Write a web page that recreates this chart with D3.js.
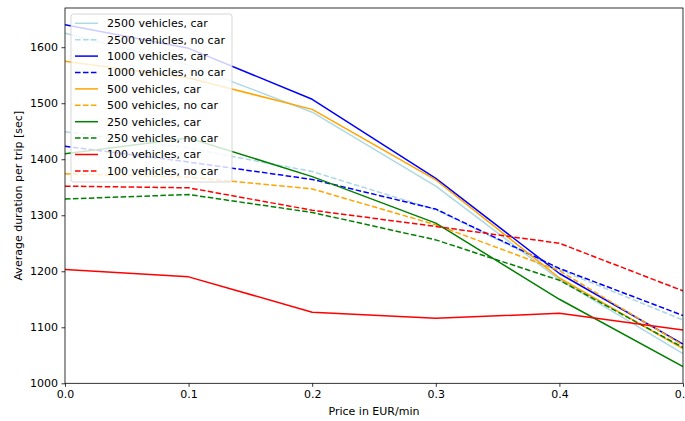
<!DOCTYPE html>
<html lang="en">
<head>
  <meta charset="UTF-8" />
  <title>Average duration per trip</title>
  <script src="https://d3js.org/d3.v7.min.js"></script>
  <style>
    body { margin: 0; background: #fff; }
    text { font-family: "DejaVu Sans", sans-serif; }
  </style>
</head>
<body>
  <svg id="chart" width="685" height="421"></svg>

  <script>
    // values
    const prices = [0.0, 0.1, 0.2, 0.3, 0.4, 0.5];

    const car2500   = [1625, 1568, 1484, 1352, 1185, 1053];
    const noCar2500 = [1449, 1420, 1378, 1310, 1203, 1113];
    const car1000   = [1640, 1598, 1507, 1366, 1196, 1070];
    const noCar1000 = [1423, 1395, 1364, 1311, 1205, 1121];
    const car500    = [1575, 1545, 1489, 1363, 1188, 1062];
    const noCar500  = [1374, 1368, 1347, 1283, 1201, 1068];
    const car250    = [1410, 1438, 1369, 1286, 1150, 1030];
    const noCar250  = [1329, 1337, 1305, 1256, 1184, 1064];
    const car100    = [1203, 1190, 1127, 1116, 1125, 1095];
    const noCar100  = [1352, 1349, 1309, 1280, 1250, 1165];

    const xTicks = [0.0, 0.1, 0.2, 0.3, 0.4, 0.5];
    const yTicks = [1000, 1100, 1200, 1300, 1400, 1500, 1600];

    const series = [
      { label: "2500 vehicles, car",    values: car2500,   color: "#add8e6", dashed: false },
      { label: "2500 vehicles, no car", values: noCar2500, color: "#add8e6", dashed: true },
      { label: "1000 vehicles, car",    values: car1000,   color: "blue",    dashed: false },
      { label: "1000 vehicles, no car", values: noCar1000, color: "blue",    dashed: true },
      { label: "500 vehicles, car",     values: car500,    color: "orange",  dashed: false },
      { label: "500 vehicles, no car",  values: noCar500,  color: "orange",  dashed: true },
      { label: "250 vehicles, car",     values: car250,    color: "green",   dashed: false },
      { label: "250 vehicles, no car",  values: noCar250,  color: "green",   dashed: true },
      { label: "100 vehicles, car",     values: car100,    color: "red",     dashed: false },
      { label: "100 vehicles, no car",  values: noCar100,  color: "red",     dashed: true }
    ];

    const plotLeft = 65, plotRight = 683, plotTop = 8, plotBottom = 383.3;
    const dash = "5.55,2.4";
    const fontSize = 11;

    const svg = d3.select("#chart");

    const x = d3.scaleLinear().domain([0, 0.5]).range([plotLeft, plotRight]);
    const y = d3.scaleLinear().domain([1000, 1670]).range([plotBottom, plotTop]);

    svg.append("defs").append("clipPath").attr("id", "plotClip")
      .append("rect")
        .attr("x", plotLeft).attr("y", plotTop)
        .attr("width", plotRight - plotLeft).attr("height", plotBottom - plotTop);

    const line = d3.line()
      .x((d, i) => x(prices[i]))
      .y(d => y(d));

    const plot = svg.append("g").attr("clip-path", "url(#plotClip)");

    series.forEach(s => {
      plot.append("path")
        .datum(s.values)
        .attr("d", line)
        .attr("fill", "none")
        .attr("stroke", s.color)
        .attr("stroke-width", 1.5)
        .attr("stroke-linejoin", "round")
        .attr("stroke-dasharray", s.dashed ? dash : null);
    });

    // axes
    const xAxis = svg.append("g")
      .attr("transform", `translate(0,${plotBottom})`)
      .call(d3.axisBottom(x).tickValues(xTicks).tickFormat(d3.format(".1f"))
        .tickSize(3.5).tickSizeOuter(0).tickPadding(3.5));

    const yAxis = svg.append("g")
      .attr("transform", `translate(${plotLeft},0)`)
      .call(d3.axisLeft(y).tickValues(yTicks).tickFormat(d3.format("d"))
        .tickSize(3.5).tickSizeOuter(0).tickPadding(3.5));

    [xAxis, yAxis].forEach(a => {
      a.select(".domain").remove();
      a.selectAll(".tick line").attr("stroke", "#000").attr("stroke-width", 0.8);
      a.selectAll(".tick text").attr("font-size", fontSize).attr("fill", "#000")
        .attr("font-family", "DejaVu Sans, sans-serif");
    });

    // spines
    svg.append("rect")
      .attr("x", plotLeft).attr("y", plotTop)
      .attr("width", plotRight - plotLeft).attr("height", plotBottom - plotTop)
      .attr("fill", "none")
      .attr("stroke", "#000")
      .attr("stroke-width", 0.8);

    // axis labels
    svg.append("text")
      .attr("x", (plotLeft + plotRight) / 2)
      .attr("y", 415)
      .attr("text-anchor", "middle")
      .attr("font-size", fontSize)
      .text("Price in EUR/min");

    svg.append("text")
      .attr("transform", `translate(22,${(plotTop + plotBottom) / 2}) rotate(-90)`)
      .attr("text-anchor", "middle")
      .attr("font-size", fontSize)
      .text("Average duration per trip [sec]");

    // legend
    const legend = svg.append("g");
    legend.append("rect")
      .attr("x", 71).attr("y", 14)
      .attr("width", 161).attr("height", 168)
      .attr("rx", 2.5)
      .attr("fill", "#fff").attr("fill-opacity", 0.8)
      .attr("stroke", "#ccc").attr("stroke-opacity", 0.8)
      .attr("stroke-width", 1);

    series.forEach((s, i) => {
      const cy = 23.3 + i * 16.4;
      legend.append("line")
        .attr("x1", 75).attr("x2", 98)
        .attr("y1", cy).attr("y2", cy)
        .attr("stroke", s.color)
        .attr("stroke-width", 1.5)
        .attr("stroke-dasharray", s.dashed ? dash : null);
      legend.append("text")
        .attr("x", 107)
        .attr("y", cy)
        .attr("dy", "0.35em")
        .attr("font-size", fontSize)
        .text(s.label);
    });
  </script>
</body>
</html>
